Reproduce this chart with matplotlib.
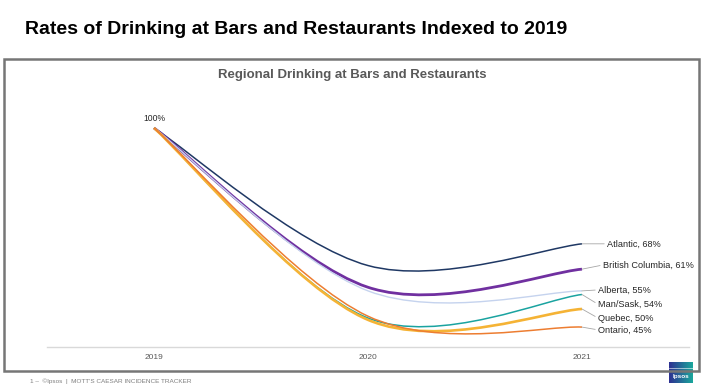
import numpy as np
import matplotlib.pyplot as plt
from matplotlib.path import Path
from matplotlib.patches import PathPatch, Rectangle
from matplotlib.colors import LinearSegmentedColormap

# data (index 2019 = 100%)
years = ['2019', '2020', '2021']
atlantic = [100, 62, 68]
british_columbia = [100, 56, 61]
alberta = [100, 55, 55]
man_sask = [100, 47.5, 54]
quebec = [100, 47, 50]
ontario = [100, 48, 45]

series_names = ['Atlantic', 'British Columbia', 'Alberta', 'Man/Sask', 'Quebec', 'Ontario']
series_values = [atlantic, british_columbia, alberta, man_sask, quebec, ontario]
colors = ['#1f3864', '#7030a0', '#c5d3ee', '#1aa3a0', '#f5b335', '#ed7d31']
widths = [1.1, 2.0, 1.0, 1.1, 1.9, 1.1]
# label offset (points) from end of line
label_off = [(18, 0), (15, 3), (11.5, 0.7), (11.5, -7), (11.5, -6.5), (11.5, -2)]

W, H = 708, 391
fig = plt.figure(figsize=(W / 100, H / 100), dpi=100)
fig.patch.set_facecolor('white')

# titel
fig.text(25 / W, 1 - 30 / H, 'Rates of Drinking at Bars and Restaurants Indexed to 2019',
         fontsize=14, fontweight='bold', family='Liberation Sans', color='black',
         ha='left', va='center')

# rahmen
fig.add_artist(Rectangle((4 / W, 1 - 371 / H), 695 / W, 312 / H, transform=fig.transFigure,
                         fill=False, ec='#767676', lw=1.8))
fig.text(352 / W, 1 - 75 / H, 'Regional Drinking at Bars and Restaurants',
         fontsize=9.5, fontweight='bold', family='Liberation Sans', color='#595959',
         ha='center', va='center')

# plot bereich
ax = fig.add_axes([47 / W, 1 - 347 / H, 642 / W, 227 / H])
ax.set_xlim(-0.5, 2.5)
ax.set_ylim(39.5, 102.2)
for s in ['top', 'left', 'right']:
    ax.spines[s].set_visible(False)
ax.spines['bottom'].set_color('#d9d9d9')
ax.spines['bottom'].set_linewidth(1.0)
ax.set_yticks([])
ax.set_xticks(range(len(years)))
ax.set_xticklabels(years, fontsize=6, family='Liberation Sans', color='#595959')
ax.tick_params(axis='x', length=0, pad=5)


def smooth_path(xs, ys):
    # excel-like smoothed line as bezier segments
    pts = list(zip(xs, ys))
    n = len(pts)
    verts = [pts[0]]
    codes = [Path.MOVETO]
    for i in range(n - 1):
        p0 = pts[i - 1] if i > 0 else pts[i]
        p1 = pts[i]
        p2 = pts[i + 1]
        p3 = pts[i + 2] if i + 2 < n else pts[i + 1]
        c1 = (p1[0] + (p2[0] - p0[0]) / 6, p1[1] + (p2[1] - p0[1]) / 6)
        c2 = (p2[0] - (p3[0] - p1[0]) / 6, p2[1] - (p3[1] - p1[1]) / 6)
        verts += [c1, c2, p2]
        codes += [Path.CURVE4] * 3
    return Path(verts, codes)


xs = np.arange(len(years))
order = [2, 5, 4, 3, 0, 1]
for k in order:
    p = smooth_path(xs, series_values[k])
    ax.add_patch(PathPatch(p, fill=False, ec=colors[k], lw=widths[k], zorder=2 + k * 0.1))

for k, name in enumerate(series_names):
    v = series_values[k][-1]
    ax.annotate('%s, %d%%' % (name, v), xy=(xs[-1], v), xytext=label_off[k],
                textcoords='offset points', fontsize=6.6, family='Liberation Sans',
                color='#262626', ha='left', va='center',
                arrowprops=dict(arrowstyle='-', color='#a6a6a6', lw=0.6,
                                shrinkA=0, shrinkB=0, relpos=(0, 0.5)))

ax.annotate('100%', xy=(xs[0], atlantic[0]), xytext=(0, 6.5), textcoords='offset points',
            fontsize=6.2, family='Liberation Sans', color='#262626', ha='center', va='center')

# fusszeile
fig.text(30 / W, 1 - 381 / H, '1 \u2013  \u00a9Ipsos  |  MOTT\'S CAESAR INCIDENCE TRACKER',
         fontsize=4.6, family='Liberation Sans', color='#7f7f7f', ha='left', va='center')

# logo
lax = fig.add_axes([669 / W, 1 - 383 / H, 24 / W, 21 / H])
cmap = LinearSegmentedColormap.from_list('ip', ['#2e3192', '#1aa79c'])
lax.imshow(np.linspace(0, 1, 50).reshape(1, -1), aspect='auto', cmap=cmap, extent=(0, 1, 0, 1))
lax.axhline(0.7, color='white', lw=0.4)
lax.text(0.5, 0.33, 'Ipsos', color='white', fontsize=4.6, fontweight='bold',
         family='Liberation Sans', ha='center', va='center')
lax.set_axis_off()

plt.savefig('out.png', dpi=100)
